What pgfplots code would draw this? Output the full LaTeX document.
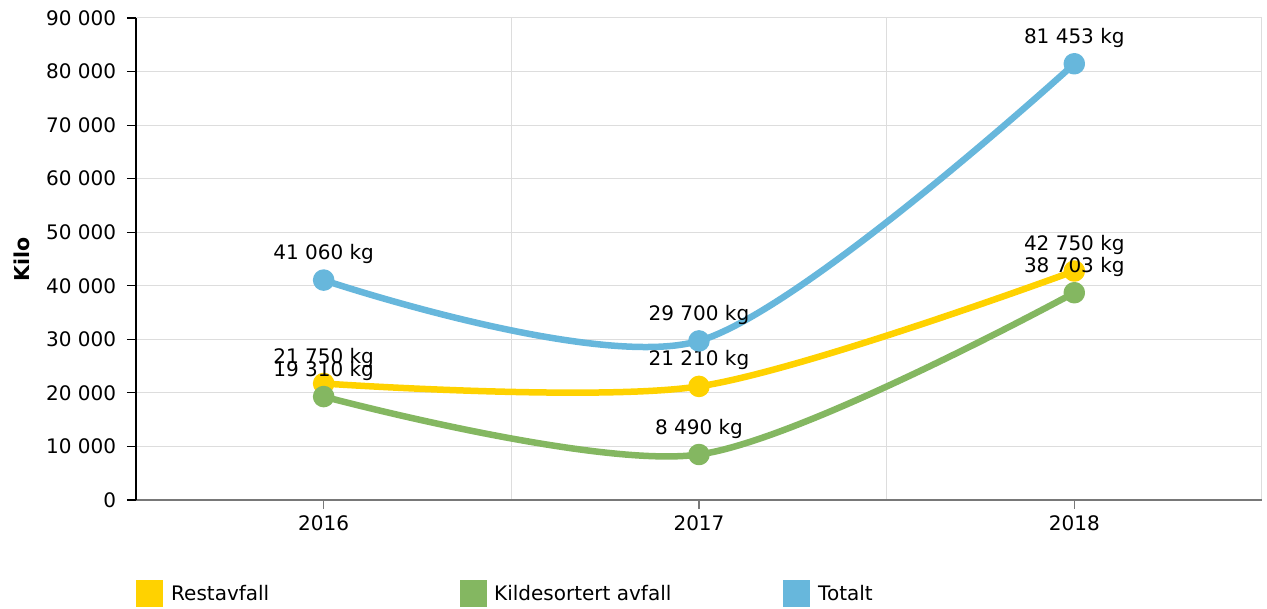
\documentclass[border=0pt]{standalone}
\usepackage{pgfplots}
\pgfplotsset{compat=1.18}
\usepackage{fontspec}
\setmainfont{DejaVu Sans}
\definecolor{cy}{RGB}{255,210,0}
\definecolor{cg}{RGB}{132,183,97}
\definecolor{cb}{RGB}{103,183,220}
\definecolor{gridc}{RGB}{221,221,221}
\definecolor{axgrey}{RGB}{120,120,120}
\begin{document}
\fontsize{20}{24}\selectfont
\begin{tikzpicture}[x=1pt,y=1pt]
\useasboundingbox (0,0) rectangle (1267,609);
\begin{axis}[
  at={(136pt,109pt)}, anchor=south west, scale only axis,
  width=1126pt, height=482pt,
  xmin=-0.5, xmax=2.5, ymin=0, ymax=90000,
  axis x line*=bottom, axis y line*=left,
  x axis line style={-, draw=axgrey, line width=1.5pt},
  y axis line style={-, draw=black, line width=1.5pt},
  xtick={0,1,2}, xticklabels={2016,2017,2018},
  minor xtick={0.5,1.5,2.5}, xminorgrids=true,
  minor tick length=0pt,
  ytick={0,10000,20000,30000,40000,50000,60000,70000,80000,90000},
  yticklabels={0,10 000,20 000,30 000,40 000,50 000,60 000,70 000,80 000,90 000},
  scaled y ticks=false,
  ymajorgrids=true,
  major grid style={draw=gridc, line width=1pt},
  minor grid style={draw=gridc, line width=1pt},
  tick align=outside, major tick length=9pt,
  x tick style={draw=axgrey, line width=1.2pt},
  y tick style={draw=black, line width=1.2pt},
  xticklabel style={font=\fontsize{20}{24}\selectfont},
  yticklabel style={font=\fontsize{20}{24}\selectfont, xshift=-4pt},
  nodes near coords, point meta=explicit symbolic,
  every node near coord/.style={anchor=center, yshift=26pt, text=black, font=\fontsize{20}{24}\selectfont},
  every axis plot/.append style={line width=6.5pt, smooth, tension=0.5, mark=*, mark size=7.5pt, line cap=round, line join=round},
]
\addplot[cy] coordinates {(0,21750)[21 750 kg] (1,21210)[21 210 kg] (2,42750)[42 750 kg]};
\addplot[cg] coordinates {(0,19310)[19 310 kg] (1,8490)[8 490 kg] (2,38703)[38 703 kg]};
\addplot[cb] coordinates {(0,41060)[41 060 kg] (1,29700)[29 700 kg] (2,81453)[81 453 kg]};
\end{axis}
\node[rotate=90, font=\fontsize{20.5}{24}\selectfont\bfseries, inner sep=0pt] at (22,350) {Kilo};
\fill[cy] (136,2) rectangle (163,29);
\node[anchor=west, inner sep=0pt] at (171,15.5) {Restavfall};
\fill[cg] (460,2) rectangle (487,29);
\node[anchor=west, inner sep=0pt] at (494,15.5) {Kildesortert avfall};
\fill[cb] (783,2) rectangle (810,29);
\node[anchor=west, inner sep=0pt] at (818,15.5) {Totalt};
\end{tikzpicture}
\end{document}
